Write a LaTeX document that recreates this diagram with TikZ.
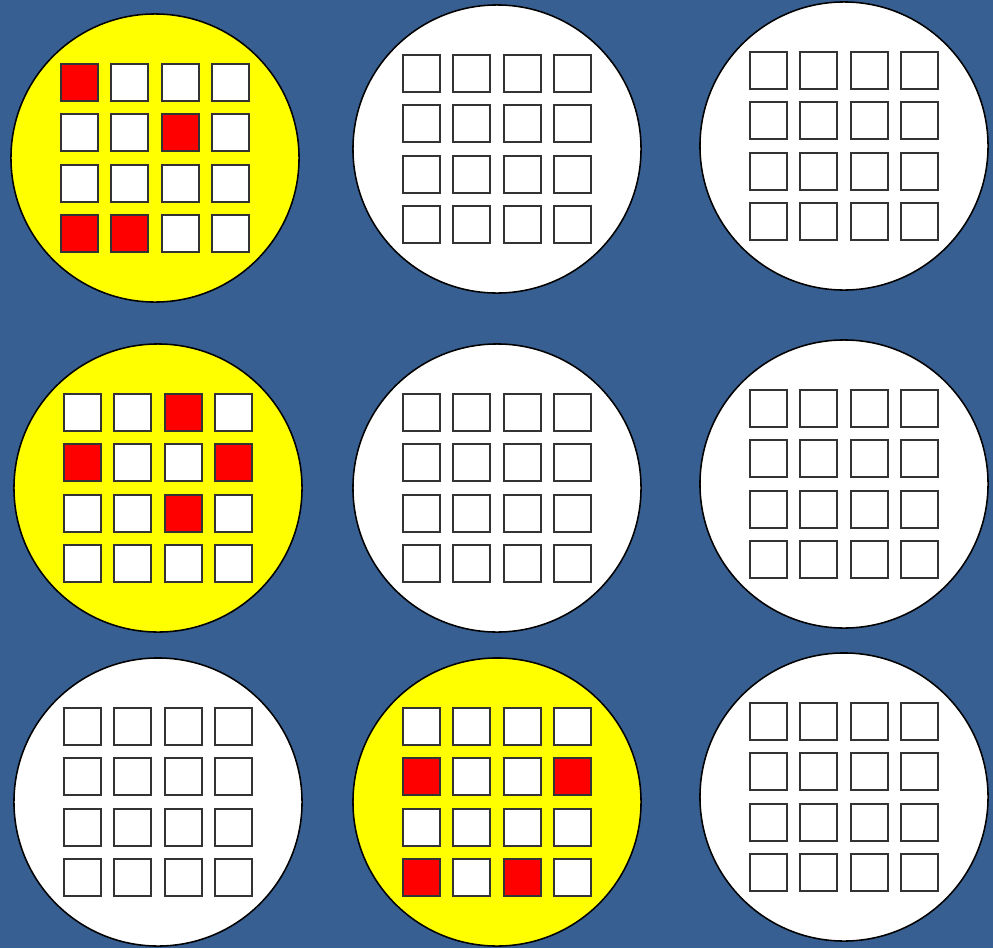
\documentclass[tikz,border=0pt]{standalone}
\usetikzlibrary{positioning}
\definecolor{wbg}{RGB}{55,95,145}
\definecolor{wyel}{RGB}{255,255,0}
\definecolor{wred}{RGB}{255,0,0}
\tikzset{disc/.style={circle,draw=black,line width=1.1pt,minimum size=7.2cm,inner sep=0pt},
  cell/.style={draw=black!80,line width=1.4pt,fill=white,minimum size=0.925cm,inner sep=0pt},
  hit/.style={fill=wred},
  % marked cells: wafer, row, column
  on-a00/.style=hit, on-a12/.style=hit, on-a30/.style=hit, on-a31/.style=hit,
  on-d02/.style=hit, on-d10/.style=hit, on-d13/.style=hit, on-d22/.style=hit,
  on-h10/.style=hit, on-h13/.style=hit, on-h30/.style=hit, on-h32/.style=hit}

\begin{document}
\begin{tikzpicture}[x=0.025cm,y=-0.025cm]
\fill[wbg] (0,0) rectangle (993,948);
\useasboundingbox (0,0) rectangle (993,948);
\foreach \n/\x/\y/\c in {a/155/158/wyel, b/497/149/white, c/844/146/white,
  d/158/488/wyel, e/497/488/white, f/844/484/white,
  g/158/802/white, h/497/802/wyel, i/844/797/white}{
  \node[disc,fill=\c] (\n) at (\x,\y) {};
  \foreach \r in {0,...,3}
    \foreach \k in {0,...,3}
      \node[cell,on-\n\r\k/.try] (\n-\r\k) at ({\x+(\k-1.5)*50.5},{\y+(\r-1.5)*50.5}) {};
}
\end{tikzpicture}
\end{document}
